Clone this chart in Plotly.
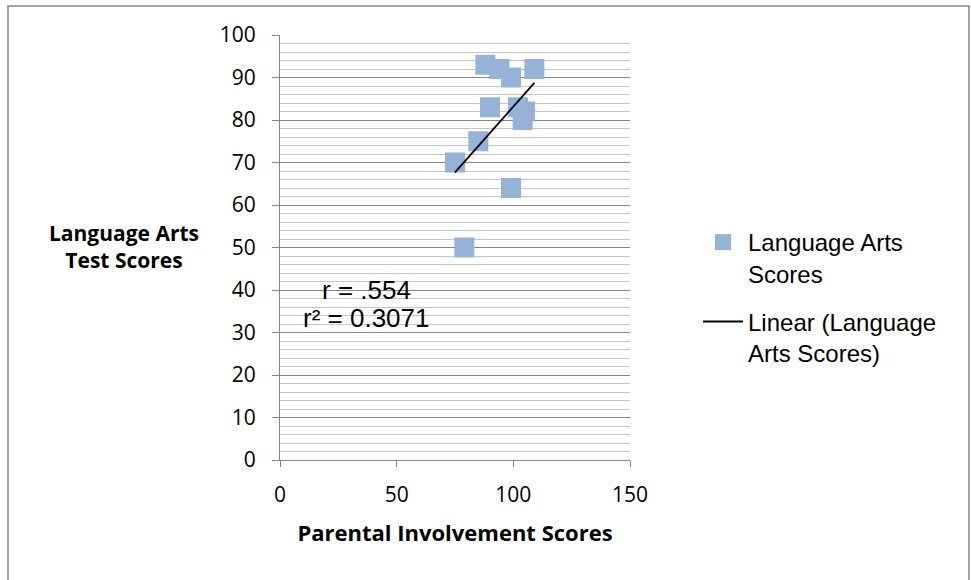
import numpy as np
import plotly.graph_objects as go

# Parental involvement (x) vs language arts test score (y)
parent_scores = [75, 79, 85, 88, 90, 94, 99, 99, 102, 104, 105, 109]
lang_scores = [70, 50, 75, 93, 83, 92, 64, 90, 83, 80, 82, 92]
x_ticks = [0, 50, 100, 150]
y_ticks = [0, 10, 20, 30, 40, 50, 60, 70, 80, 90, 100]
stats_text = ["r = .554", "r\u00b2 = 0.3071"]

W, H = 971, 580
L, R, T, B = 280, 341, 35, 120
pw, ph = W - L - R, H - T - B


def px_x(v):
    return (v - L) / pw


def px_y(v):
    return (T + ph - v) / ph


# linear trendline across the data range
slope, icpt = np.polyfit(parent_scores, lang_scores, 1)
tx = [min(parent_scores), max(parent_scores)]
ty = [slope * v + icpt for v in tx]

fig = go.Figure()
fig.add_trace(go.Scatter(
    x=parent_scores, y=lang_scores, mode="markers",
    name="Language Arts<br>Scores", legendgroup="pts",
    marker=dict(symbol="square", size=20, color="#95b3d7"),
))
fig.add_trace(go.Scatter(
    x=tx, y=ty, mode="lines",
    name="Linear (Language<br>Arts Scores)", legendgroup="fit",
    line=dict(color="black", width=1.8),
))

fig.update_layout(
    width=W, height=H,
    margin=dict(l=L, r=R, t=T, b=B),
    paper_bgcolor="white", plot_bgcolor="white",
    font=dict(family="Open Sans", size=21, color="black"),
    legend=dict(
        x=px_x(698), y=px_y(220), xanchor="left", yanchor="top",
        font=dict(family="Liberation Sans", size=24),
        itemwidth=40, tracegroupgap=14, valign="top",
    ),
    xaxis=dict(
        range=[0, 150], tickvals=x_ticks, showgrid=False, zeroline=False,
        showline=True, linecolor="#868686", linewidth=1,
        ticks="outside", ticklen=6, tickcolor="#868686", ticklabelstandoff=10,
        title=dict(text="<b>Parental Involvement Scores</b>", font=dict(size=22), standoff=18),
    ),
    yaxis=dict(
        range=[0, 100], tickvals=y_ticks, zeroline=False,
        showline=True, linecolor="#868686", linewidth=1,
        showgrid=True, gridcolor="#868686", gridwidth=1,
        ticks="outside", ticklen=7, tickcolor="#868686", ticklabelstandoff=12,
        minor=dict(dtick=2, showgrid=True, gridcolor="#c6c6c6", gridwidth=1, ticks=""),
    ),
)

fig.add_annotation(
    x=px_x(124), y=px_y(246), xref="paper", yref="paper",
    xanchor="center", yanchor="middle",
    text="<b>Language Arts<br>Test Scores</b>", showarrow=False,
    font=dict(family="Open Sans", size=21), align="center",
)
for i, s in enumerate(stats_text):
    fig.add_annotation(
        x=px_x(366), y=px_y(290 + i * 28), xref="paper", yref="paper",
        xanchor="center", yanchor="middle",
        text=s, showarrow=False, font=dict(family="Liberation Sans", size=26),
    )

# outer chart border
fig.add_shape(
    type="rect", xref="paper", yref="paper",
    x0=px_x(8), x1=px_x(969), y0=px_y(584), y1=px_y(6),
    line=dict(color="#868686", width=1.5),
)

fig.write_html("out.html", config={"displayModeBar": False},
               post_script="document.body.style.margin='0';")
